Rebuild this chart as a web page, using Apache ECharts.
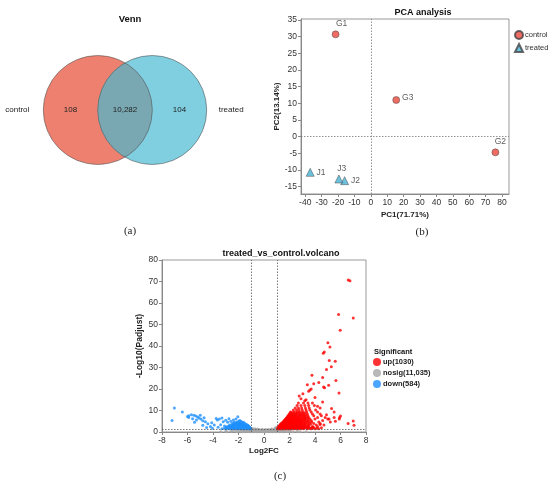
<!DOCTYPE html>
<html>
<head>
<meta charset="utf-8">
<title>Venn / PCA / Volcano</title>
<script src="https://cdn.jsdelivr.net/npm/echarts@6/dist/echarts.min.js"></script>
<style>
  html, body { margin: 0; padding: 0; background: #fff; }
  #main { width: 550px; height: 483px; }
</style>
</head>
<body>
<div id="main"></div>
<script>
// ---- Venn ----
const vennSets = ['control', 'treated'];
const vennCounts = [108, 10282, 104]; // control only, shared, treated only

// ---- PCA ----
const pcaGroups = ['control', 'treated'];
const pcaControlNames = ['G1', 'G2', 'G3'];
const pcaControlPC1 = [-21.5, 76, 15.5];
const pcaControlPC2 = [30.7, -4.7, 11];
const pcaTreatedNames = ['J1', 'J2', 'J3'];
const pcaTreatedPC1 = [-37, -16, -19.5];
const pcaTreatedPC2 = [-10.7, -13.2, -12.7];
const pcaXTicks = [-40, -30, -20, -10, 0, 10, 20, 30, 40, 50, 60, 70, 80];
const pcaYTicks = [-15, -10, -5, 0, 5, 10, 15, 20, 25, 30, 35];

// ---- Volcano ----
const volcanoGroups = ['up', 'nosig', 'down'];
const volcanoCounts = ['1030', '11,035', '584'];
const volcanoFcCut = [-1, 1];
const volcanoPCut = 1.3;

// [log2FC, -log10(padj)]
const volcanoUp = [
  [1.05,1.5],[1.2,1.5],[1.35,1.5],[1.5,1.5],[1.65,1.5],[1.8,1.5],[1.95,1.5],[2.1,1.5],[2.3,1.5],[2.5,1.5],[2.7,1.5],[2.9,1.5],[3.1,1.5],[3.4,1.5],[3.7,1.5],[4.0,1.5],[4.3,1.5],
  [1.1,1.75],[1.28,1.75],[1.45,1.75],[1.62,1.75],[1.78,1.75],[1.95,1.75],[2.12,1.75],[2.3,1.75],[2.5,1.75],[2.7,1.75],[2.92,1.75],[3.15,1.75],[3.45,1.75],[3.75,1.75],[4.15,1.75],
  [1.1,2.0],[1.25,2.0],[1.4,2.0],[1.55,2.0],[1.7,2.0],[1.85,2.0],[2.0,2.0],[2.2,2.0],[2.4,2.0],[2.6,2.0],[2.8,2.0],[3.0,2.0],[3.3,2.0],[3.6,2.0],[3.9,2.0],[4.5,2.0],
  [1.18,2.3],[1.35,2.3],[1.52,2.3],[1.68,2.3],[1.82,2.3],[1.98,2.3],[2.15,2.3],[2.32,2.3],[2.52,2.3],[2.72,2.3],[2.95,2.3],[3.2,2.3],[3.5,2.3],[3.85,2.3],
  [1.15,2.6],[1.3,2.6],[1.45,2.6],[1.6,2.6],[1.75,2.6],[1.9,2.6],[2.05,2.6],[2.25,2.6],[2.45,2.6],[2.65,2.6],[2.85,2.6],[3.05,2.6],[3.35,2.6],[3.8,2.6],[4.2,2.6],
  [1.22,2.9],[1.38,2.9],[1.52,2.9],[1.68,2.9],[1.82,2.9],[1.98,2.9],[2.15,2.9],[2.32,2.9],[2.52,2.9],[2.72,2.9],[2.92,2.9],[3.15,2.9],[3.45,2.9],
  [1.25,3.2],[1.4,3.2],[1.55,3.2],[1.7,3.2],[1.85,3.2],[2.0,3.2],[2.15,3.2],[2.35,3.2],[2.55,3.2],[2.75,3.2],[2.95,3.2],[3.2,3.2],[3.5,3.2],[4.1,3.2],[4.7,3.2],
  [1.3,3.55],[1.45,3.55],[1.6,3.55],[1.75,3.55],[1.9,3.55],[2.05,3.55],[2.22,3.55],[2.42,3.55],[2.62,3.55],[2.82,3.55],[3.05,3.55],[3.3,3.55],[3.65,3.55],
  [1.35,3.9],[1.5,3.9],[1.65,3.9],[1.8,3.9],[1.95,3.9],[2.1,3.9],[2.3,3.9],[2.5,3.9],[2.7,3.9],[2.9,3.9],[3.15,3.9],[3.45,3.9],[3.9,3.9],[4.4,3.9],
  [1.42,4.25],[1.58,4.25],[1.72,4.25],[1.88,4.25],[2.02,4.25],[2.18,4.25],[2.38,4.25],[2.55,4.25],[2.75,4.25],[2.98,4.25],[3.25,4.25],[3.6,4.25],
  [1.5,4.6],[1.65,4.6],[1.8,4.6],[1.95,4.6],[2.1,4.6],[2.25,4.6],[2.45,4.6],[2.65,4.6],[2.85,4.6],[3.1,4.6],[3.4,4.6],[3.75,4.6],[4.3,4.6],[5.2,4.6],
  [1.55,4.95],[1.7,4.95],[1.85,4.95],[2.0,4.95],[2.15,4.95],[2.32,4.95],[2.52,4.95],[2.72,4.95],[2.95,4.95],[3.2,4.95],[3.5,4.95],
  [1.6,5.3],[1.75,5.3],[1.9,5.3],[2.05,5.3],[2.2,5.3],[2.4,5.3],[2.6,5.3],[2.8,5.3],[3.0,5.3],[3.3,5.3],[3.7,5.3],[4.6,5.3],
  [1.65,5.65],[1.8,5.65],[1.95,5.65],[2.12,5.65],[2.3,5.65],[2.5,5.65],[2.7,5.65],[2.9,5.65],[3.15,5.65],[3.45,5.65],
  [1.7,6.0],[1.85,6.0],[2.0,6.0],[2.15,6.0],[2.35,6.0],[2.55,6.0],[2.75,6.0],[3.0,6.0],[3.25,6.0],[3.6,6.0],[4.0,6.0],[5.1,6.0],[5.9,6.0],
  [1.75,6.4],[1.9,6.4],[2.05,6.4],[2.22,6.4],[2.42,6.4],[2.62,6.4],[2.85,6.4],[3.1,6.4],[3.4,6.4],
  [1.8,6.8],[1.95,6.8],[2.1,6.8],[2.3,6.8],[2.5,6.8],[2.7,6.8],[2.95,6.8],[3.2,6.8],[3.5,6.8],[4.2,6.8],[4.8,6.8],[5.5,6.8],
  [1.85,7.2],[2.0,7.2],[2.18,7.2],[2.38,7.2],[2.58,7.2],[2.8,7.2],[3.05,7.2],[3.3,7.2],
  [1.9,7.6],[2.05,7.6],[2.25,7.6],[2.45,7.6],[2.7,7.6],[2.9,7.6],[3.15,7.6],[3.45,7.6],[3.9,7.6],[4.5,7.6],
  [1.95,8.0],[2.12,8.0],[2.32,8.0],[2.52,8.0],[2.75,8.0],[3.0,8.0],[3.25,8.0],
  [2.0,8.4],[2.2,8.4],[2.4,8.4],[2.6,8.4],[2.85,8.4],[3.1,8.4],[3.4,8.4],[3.8,8.4],[4.4,8.4],
  [2.05,8.9],[2.25,8.9],[2.48,8.9],[2.7,8.9],[2.95,8.9],[3.2,8.9],
  [2.1,9.3],[2.35,9.3],[2.6,9.3],[2.8,9.3],[3.05,9.3],[3.35,9.3],[3.7,9.3],[4.2,9.3],[5.5,9.3],
  [2.3,10.2],[2.55,10.2],[2.75,10.2],[3.0,10.2],[3.3,10.2],[3.6,10.2],[4.05,10.2],[5.3,10.9],
  [2.45,11.2],[2.7,11.2],[2.95,11.2],[3.25,11.2],[3.55,11.2],[4.4,11.2],
  [2.6,12.3],[2.9,12.3],[3.2,12.3],[3.5,12.3],[3.95,12.3],
  [2.7,13.5],[3.1,13.5],[3.45,13.5],[4.6,14],
  [2.76,16.7],[3.05,17.8],[3.3,15],[3.6,19.5],[3.5,19],[3.7,20],[3.4,22],[3.76,26.4],[3.9,22.5],[4.3,23],
  [4.6,25.4],[4.67,20.9],[4.75,20.6],[5.07,21.7],[5.64,24],[5.88,18.1],[4.9,29.1],[5.28,30.4],
  [4.73,37.2],[4.65,36.6],[5.12,33.3],[5.59,32.9],[5.01,41.5],[5.17,39.5],[5.98,47.3],[5.85,54.6],
  [7.0,53],[6.61,70.7],[6.74,70.4],[5.93,6.7],[7.0,5.1],[7.06,3.1],[4.0,16],[3.2,14.5],[2.9,15.5],
  [4.2,12],[3.8,13.5],[4.9,8],[5.0,6],[5.6,5],[6.0,7.5],[6.6,4],[4.4,3.5]
];

const volcanoNosig = [
  [-3.4,0.1],[-2.9,0.1],[-2.5,0.1],[-2.1,0.1],[-1.7,0.1],[-1.4,0.1],[-1.1,0.1],[-0.85,0.1],[-0.6,0.1],[-0.35,0.1],[-0.1,0.1],[0.15,0.1],[0.4,0.1],[0.65,0.1],[0.9,0.1],[1.2,0.1],[1.5,0.1],[1.9,0.1],[2.3,0.1],[2.8,0.1],[3.3,0.1],
  [-1.6,0.25],[-1.2,0.25],[-0.9,0.25],[-0.65,0.25],[-0.4,0.25],[-0.15,0.25],[0.1,0.25],[0.35,0.25],[0.6,0.25],[0.85,0.25],[1.1,0.25],[1.45,0.25],[1.8,0.25],
  [-3.0,0.4],[-2.6,0.4],[-2.2,0.4],[-1.85,0.4],[-1.55,0.4],[-1.25,0.4],[-0.95,0.4],[-0.7,0.4],[-0.45,0.4],[-0.2,0.4],[0.05,0.4],[0.3,0.4],[0.55,0.4],[0.8,0.4],[1.05,0.4],[1.35,0.4],[1.7,0.4],[2.1,0.4],[2.6,0.4],
  [-1.4,0.55],[-1.05,0.55],[-0.8,0.55],[-0.55,0.55],[-0.3,0.55],[-0.05,0.55],[0.2,0.55],[0.45,0.55],[0.7,0.55],[0.95,0.55],[1.2,0.55],
  [-2.4,0.7],[-2.0,0.7],[-1.65,0.7],[-1.3,0.7],[-1.0,0.7],[-0.75,0.7],[-0.5,0.7],[-0.25,0.7],[0,0.7],[0.25,0.7],[0.5,0.7],[0.75,0.7],[1.0,0.7],[1.3,0.7],[1.6,0.7],[2.0,0.7],
  [-1.1,0.85],[-0.8,0.85],[-0.55,0.85],[-0.3,0.85],[-0.05,0.85],[0.2,0.85],[0.45,0.85],[0.7,0.85],[0.95,0.85],
  [-1.8,1.0],[-1.45,1.0],[-1.15,1.0],[-0.85,1.0],[-0.6,1.0],[-0.35,1.0],[-0.1,1.0],[0.2,1.0],[0.45,1.0],[0.7,1.0],[0.95,1.0],[1.2,1.0],[1.5,1.0],
  [-0.9,1.15],[-0.65,1.15],[-0.4,1.15],[-0.15,1.15],[0.1,1.15],[0.35,1.15],[0.6,1.15],[0.85,1.15],
  [-0.9,1.6],[-0.7,1.5],[0.85,1.8],[0.6,1.4],[-0.5,1.45],[0.95,2.2]
];

const volcanoDown = [
  [-7.03,11.2],[-7.21,5.4],[-6.4,9.3],[-5.9,7.6],[-5.7,8],[-5.5,7.8],[-5.35,7.4],[-5.2,7.0],[-5.1,6.5],[-5.0,7.8],
  [-4.95,6.1],[-4.8,5.2],[-4.7,6.6],[-4.6,4.8],[-5.6,6.2],[-5.9,6.8],[-6.0,7.2],[-5.3,5.6],[-4.4,3.8],[-4.2,2.6],
  [-4.5,2.1],[-3.9,3.2],[-3.75,6.3],[-3.65,5.6],[-3.5,6.0],[-3.3,6.5],[-3.2,4.8],[-3.0,5.5],[-2.85,4.5],[-3.4,3.4],
  [-3.6,2.2],[-3.1,2.8],[-4.1,4.3],[-4.8,3.1],[-5.45,4.5],[-4.05,1.8],[-2.75,6.2],[-2.6,5.0],[-2.4,5.6],[-2.2,6.0],
  [-2.05,7.1],[-1.9,5.4],
  [-3.3,1.5],[-3.0,1.5],[-2.75,1.5],[-2.55,1.5],[-2.35,1.5],[-2.15,1.5],[-1.95,1.5],[-1.75,1.5],[-1.55,1.5],[-1.35,1.5],[-1.15,1.5],[-1.05,1.5],
  [-3.1,1.8],[-2.85,1.8],[-2.6,1.8],[-2.4,1.8],[-2.2,1.8],[-2.0,1.8],[-1.8,1.8],[-1.6,1.8],[-1.4,1.8],[-1.2,1.8],[-1.05,1.8],
  [-2.9,2.1],[-2.65,2.1],[-2.45,2.1],[-2.25,2.1],[-2.05,2.1],[-1.85,2.1],[-1.65,2.1],[-1.45,2.1],[-1.25,2.1],[-1.1,2.1],
  [-2.95,2.4],[-2.7,2.4],[-2.5,2.4],[-2.3,2.4],[-2.1,2.4],[-1.9,2.4],[-1.7,2.4],[-1.5,2.4],[-1.3,2.4],[-1.15,2.4],
  [-2.8,2.7],[-2.55,2.7],[-2.35,2.7],[-2.15,2.7],[-1.95,2.7],[-1.75,2.7],[-1.55,2.7],[-1.35,2.7],[-1.2,2.7],
  [-2.6,3.0],[-2.4,3.0],[-2.2,3.0],[-2.0,3.0],[-1.8,3.0],[-1.6,3.0],[-1.4,3.0],[-1.25,3.0],
  [-2.7,3.3],[-2.45,3.3],[-2.25,3.3],[-2.05,3.3],[-1.85,3.3],[-1.65,3.3],[-1.45,3.3],[-1.3,3.3],
  [-2.4,3.6],[-2.2,3.6],[-2.0,3.6],[-1.8,3.6],[-1.6,3.6],[-1.4,3.6],
  [-2.5,3.9],[-2.3,3.9],[-2.1,3.9],[-1.9,3.9],[-1.7,3.9],[-1.5,3.9],
  [-2.2,4.2],[-2.0,4.2],[-1.8,4.2],[-1.65,4.2],
  [-2.35,4.5],[-2.15,4.5],[-1.95,4.5],[-1.75,4.5],[-1.6,4.5],
  [-2.0,5.0],[-1.8,5.0]
];

const FONT = 'Liberation Sans, Arial, sans-serif';
const SERIF = 'Liberation Serif, DejaVu Serif, serif';

// geometry of the two Venn circles (axis units of the hidden grid)
const VENN_CX = 0.272;
const VENN_R = 0.545;

function renderVenn(params, api) {
    const cL = api.coord([-VENN_CX, 0]);
    const cR = api.coord([VENN_CX, 0]);
    const r = api.size([VENN_R, 0])[0];
    const half = (cR[0] - cL[0]) / 2;
    const theta = Math.acos(half / r);
    const lens = [];
    const steps = 40;
    for (let i = 0; i <= steps; i++) {
        const a = -theta + (2 * theta * i) / steps;
        lens.push([cL[0] + r * Math.cos(a), cL[1] + r * Math.sin(a)]);
    }
    for (let i = 0; i <= steps; i++) {
        const a = Math.PI - theta + (2 * theta * i) / steps;
        lens.push([cR[0] + r * Math.cos(a), cR[1] + r * Math.sin(a)]);
    }
    const lensLeft = cR[0] - r;
    const lensRight = cL[0] + r;
    const textStyle = (text, x, align) => ({
        type: 'text',
        style: {
            text: text, x: x, y: cL[1], align: align, verticalAlign: 'middle',
            font: '8px ' + FONT, fill: '#222'
        }
    });
    return {
        type: 'group',
        children: [
            { type: 'circle', shape: { cx: cL[0], cy: cL[1], r: r }, style: { fill: '#ee806f' } },
            { type: 'circle', shape: { cx: cR[0], cy: cR[1], r: r }, style: { fill: '#7fcfe1' } },
            { type: 'polygon', shape: { points: lens }, style: { fill: '#79a8b3' } },
            { type: 'circle', shape: { cx: cL[0], cy: cL[1], r: r }, style: { fill: 'none', stroke: '#555', lineWidth: 0.6 } },
            { type: 'circle', shape: { cx: cR[0], cy: cR[1], r: r }, style: { fill: 'none', stroke: '#555', lineWidth: 0.6 } },
            textStyle(vennCounts[0].toLocaleString('en-US'), (cL[0] - r + lensLeft) / 2, 'center'),
            textStyle(vennCounts[1].toLocaleString('en-US'), (lensLeft + lensRight) / 2, 'center'),
            textStyle(vennCounts[2].toLocaleString('en-US'), (lensRight + cR[0] + r) / 2, 'center'),
            textStyle(vennSets[0], cL[0] - r - 14, 'right'),
            textStyle(vennSets[1], cR[0] + r + 12, 'left')
        ]
    };
}

// label placement for PCA points
const pcaLabelPos = {
    G1: { position: 'top', offset: [6, 0] },
    G2: { position: 'top', offset: [5, 0] },
    G3: { position: 'right', offset: [0, -2] },
    J1: { position: 'right', offset: [0, 0] },
    J2: { position: 'right', offset: [0, 0] },
    J3: { position: 'top', offset: [3, 0] }
};

function pcaPoints(names, xs, ys) {
    return names.map((n, i) => ({
        name: n,
        value: [xs[i], ys[i]],
        label: Object.assign({ show: true, formatter: n }, pcaLabelPos[n])
    }));
}

const axisBase = {
    axisLine: { show: true, onZero: false, lineStyle: { color: '#888', width: 1 } },
    axisTick: { show: true, inside: false, length: 3, lineStyle: { color: '#888' } },
    axisLabel: { color: '#333', fontSize: 8.5, fontFamily: FONT, margin: 4 },
    splitLine: { show: false },
    nameTextStyle: { color: '#222', fontSize: 8, fontWeight: 'bold', fontFamily: FONT }
};

const chart = echarts.init(document.getElementById('main'));
const option = {
    animation: false,
    backgroundColor: '#fff',
    textStyle: { fontFamily: FONT },
    title: [
        { text: 'Venn', left: 125, top: 9, textAlign: 'center',
          textStyle: { fontSize: 9.5, fontWeight: 'bold', color: '#111', fontFamily: FONT } },
        { text: 'PCA analysis', left: 418, top: 3, textAlign: 'center',
          textStyle: { fontSize: 9, fontWeight: 'bold', color: '#111', fontFamily: FONT } },
        { text: 'treated_vs_control.volcano', left: 276, top: 244, textAlign: 'center',
          textStyle: { fontSize: 9, fontWeight: 'bold', color: '#111', fontFamily: FONT } },
        { text: 'Significant', left: 369, top: 343,
          textStyle: { fontSize: 7.5, fontWeight: 'bold', color: '#111', fontFamily: FONT } },
        { text: '(a)', left: 125, top: 221, textAlign: 'center',
          textStyle: { fontSize: 11, fontWeight: 'normal', color: '#222', fontFamily: SERIF } },
        { text: '(b)', left: 417, top: 222, textAlign: 'center',
          textStyle: { fontSize: 11, fontWeight: 'normal', color: '#222', fontFamily: SERIF } },
        { text: '(c)', left: 275, top: 466, textAlign: 'center',
          textStyle: { fontSize: 11, fontWeight: 'normal', color: '#222', fontFamily: SERIF } }
    ],
    legend: [
        {
            data: pcaGroups,
            orient: 'vertical',
            left: 509, top: 25,
            itemWidth: 8, itemHeight: 8, itemGap: 3,
            textStyle: { fontSize: 7.5, color: '#333', fontFamily: FONT, padding: [0, 0, 0, -3] }
        },
        {
            data: volcanoGroups.map((g, i) => g + '(' + volcanoCounts[i] + ')'),
            orient: 'vertical',
            left: 368, top: 353,
            itemWidth: 8, itemHeight: 8, itemGap: 3,
            icon: 'circle',
            textStyle: { fontSize: 7.5, fontWeight: 'bold', color: '#222', fontFamily: FONT, padding: [0, 0, 0, -3] }
        }
    ],
    grid: [
        { left: 0, top: 55, width: 250, height: 110, show: false },
        { left: 301, top: 19, width: 208, height: 175, show: true, borderColor: '#999', borderWidth: 1 },
        { left: 162, top: 260, width: 204, height: 172, show: true, borderColor: '#999', borderWidth: 1 }
    ],
    xAxis: [
        { gridIndex: 0, type: 'value', min: -1.25, max: 1.25, show: false },
        Object.assign({}, axisBase, {
            gridIndex: 1, type: 'value', min: -42.6, max: 84.3,
            name: 'PC1(71.71%)', nameLocation: 'middle', nameGap: 17,
            axisTick: Object.assign({}, axisBase.axisTick, { customValues: pcaXTicks }),
            axisLabel: Object.assign({}, axisBase.axisLabel, { customValues: pcaXTicks })
        }),
        Object.assign({}, axisBase, {
            gridIndex: 2, type: 'value', min: -8, max: 8, interval: 2,
            name: 'Log2FC', nameLocation: 'middle', nameGap: 15
        })
    ],
    yAxis: [
        { gridIndex: 0, type: 'value', min: -0.55, max: 0.55, show: false },
        Object.assign({}, axisBase, {
            gridIndex: 1, type: 'value', min: -17.2, max: 35.3,
            name: 'PC2(13.14%)', nameLocation: 'middle', nameGap: 17,
            axisTick: Object.assign({}, axisBase.axisTick, { customValues: pcaYTicks }),
            axisLabel: Object.assign({}, axisBase.axisLabel, { customValues: pcaYTicks })
        }),
        Object.assign({}, axisBase, {
            gridIndex: 2, type: 'value', min: 0, max: 80, interval: 10,
            name: '-Log10(Padjust)', nameLocation: 'middle', nameGap: 17,
            nameTextStyle: Object.assign({}, axisBase.nameTextStyle, { fontSize: 8.5 })
        })
    ],
    series: [
        {
            type: 'custom',
            xAxisIndex: 0, yAxisIndex: 0,
            data: [[0, 0]],
            renderItem: renderVenn,
            silent: true
        },
        {
            name: pcaGroups[0],
            type: 'scatter',
            xAxisIndex: 1, yAxisIndex: 1,
            symbol: 'circle', symbolSize: 7,
            itemStyle: { color: '#e8473d', borderColor: '#444', borderWidth: 0.6 },
            label: { color: '#333', fontSize: 8.5, fontFamily: FONT, distance: 2 },
            data: pcaPoints(pcaControlNames, pcaControlPC1, pcaControlPC2),
            markLine: {
                silent: true, symbol: 'none', label: { show: false },
                lineStyle: { color: '#777', type: [1.5, 1.5], width: 0.8 },
                data: [{ xAxis: 0 }, { yAxis: 0 }]
            }
        },
        {
            name: pcaGroups[1],
            type: 'scatter',
            xAxisIndex: 1, yAxisIndex: 1,
            symbol: 'triangle', symbolSize: 8,
            itemStyle: { color: '#47b3d4', borderColor: '#444', borderWidth: 0.6 },
            label: { color: '#333', fontSize: 8.5, fontFamily: FONT, distance: 2 },
            data: pcaPoints(pcaTreatedNames, pcaTreatedPC1, pcaTreatedPC2)
        },
        {
            name: volcanoGroups[1] + '(' + volcanoCounts[1] + ')',
            type: 'scatter',
            xAxisIndex: 2, yAxisIndex: 2,
            symbolSize: 3,
            itemStyle: { color: '#a6a6a6' },
            data: volcanoNosig,
            markLine: {
                silent: true, symbol: 'none', label: { show: false },
                lineStyle: { color: '#555', type: [1.5, 1.5], width: 0.8 },
                data: [{ xAxis: volcanoFcCut[0] }, { xAxis: volcanoFcCut[1] }, { yAxis: volcanoPCut }]
            }
        },
        {
            name: volcanoGroups[0] + '(' + volcanoCounts[0] + ')',
            type: 'scatter',
            xAxisIndex: 2, yAxisIndex: 2,
            symbolSize: 3,
            itemStyle: { color: '#ff0000' },
            data: volcanoUp
        },
        {
            name: volcanoGroups[2] + '(' + volcanoCounts[2] + ')',
            type: 'scatter',
            xAxisIndex: 2, yAxisIndex: 2,
            symbolSize: 3,
            itemStyle: { color: '#1e90ff' },
            data: volcanoDown
        }
    ]
};
chart.setOption(option);
</script>
</body>
</html>
